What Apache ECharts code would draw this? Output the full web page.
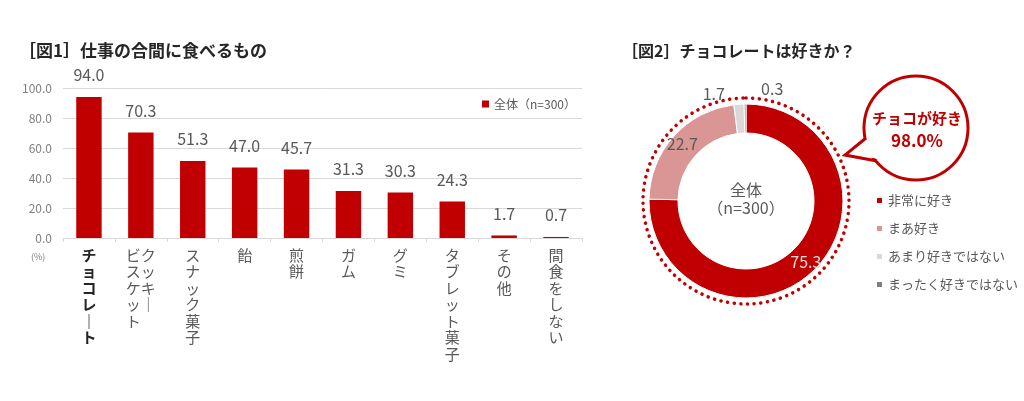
<!DOCTYPE html>
<html>
<head>
<meta charset="utf-8">
<script src="https://cdn.jsdelivr.net/npm/echarts@6/dist/echarts.min.js"></script>
<style>
html, body { margin: 0; padding: 0; background: #fff; }
#main { width: 1024px; height: 401px; }
</style>
</head>
<body>
<div id="main"></div>
<script>
// 図1 data
var foodNames = ['チョコレート', 'クッキー\nビスケット', 'スナック菓子', '飴', '煎餅', 'ガム', 'グミ', 'タブレット菓子', 'その他', '間食をしない'];
var foodValues = [94.0, 70.3, 51.3, 47.0, 45.7, 31.3, 30.3, 24.3, 1.7, 0.7];
var barSeriesName = '全体（n=300）';
var yTicks = [0, 20, 40, 60, 80, 100];

// 図2 data
var likeNames = ['非常に好き', 'まあ好き', 'あまり好きではない', 'まったく好きではない'];
var likeValues = [75.3, 22.7, 1.7, 0.3];
var likeColors = ['#C00000', '#D99694', '#D9D9D9', '#7F7F7F'];

var FONT = '"Noto Sans CJK JP", "Noto Sans", sans-serif';
var RED = '#C00000';
var GRAY = '#595959';

// vertical (tategaki) label: columns separated by \n, read right to left
function verticalText(name) {
    var cols = name.split('\n').map(function (c) {
        return c.replace(/ー/g, '｜').split('');
    });
    cols.reverse();
    var maxLen = 0;
    cols.forEach(function (c) { if (c.length > maxLen) maxLen = c.length; });
    var lines = [];
    for (var i = 0; i < maxLen; i++) {
        lines.push(cols.map(function (c) { return c[i] || '　'; }).join(''));
    }
    return lines.join('\n');
}

var xData = foodNames.map(function (n, i) {
    var item = { value: n };
    if (i === 0) {
        item.textStyle = { fontWeight: 'bold', color: '#262626' };
    }
    return item;
});

var pieData = likeNames.map(function (n, i) {
    return { name: n, value: likeValues[i], itemStyle: { color: likeColors[i] } };
});

var chart = echarts.init(document.getElementById('main'));

var option = {
    animation: false,
    textStyle: { fontFamily: FONT },
    title: [
        {
            text: '［図1］仕事の合間に食べるもの',
            left: 14, top: 37,
            textStyle: { fontSize: 17, fontWeight: 'bold', color: '#262626', fontFamily: FONT }
        },
        {
            text: '［図2］チョコレートは好きか？',
            left: 617, top: 38,
            textStyle: { fontSize: 16, fontWeight: 'bold', color: '#262626', fontFamily: FONT }
        }
    ],
    legend: [
        {
            data: [barSeriesName],
            left: 477, top: 93,
            icon: 'rect',
            itemWidth: 7, itemHeight: 7, itemGap: 4,
            textStyle: { fontSize: 12, color: GRAY, fontFamily: FONT }
        },
        {
            data: likeNames,
            orient: 'vertical',
            left: 870, top: 189,
            icon: 'rect',
            itemWidth: 7, itemHeight: 7, itemGap: 15,
            textStyle: { fontSize: 13, color: GRAY, fontFamily: FONT }
        }
    ],
    grid: { left: 63, right: 442, top: 88, bottom: 163 },
    xAxis: {
        type: 'category',
        data: xData,
        axisLine: { lineStyle: { color: '#D9D9D9' } },
        axisTick: { show: true, length: 4, lineStyle: { color: '#D9D9D9' } },
        axisLabel: {
            interval: 0,
            margin: 9,
            fontSize: 15,
            lineHeight: 16.5,
            color: GRAY,
            fontFamily: FONT,
            formatter: verticalText
        }
    },
    yAxis: {
        type: 'value',
        min: yTicks[0],
        max: yTicks[yTicks.length - 1],
        interval: 20,
        axisLine: { show: false },
        axisTick: { show: false },
        splitLine: { lineStyle: { color: '#D9D9D9' } },
        axisLabel: {
            fontSize: 12,
            color: '#7F7F7F',
            margin: 11,
            formatter: function (v) { return v.toFixed(1); }
        }
    },
    graphic: [
        {
            type: 'text', left: 31, top: 252,
            style: { text: '(%)', fontSize: 9, fill: '#7F7F7F', fontFamily: FONT }
        },
        {
            type: 'text', x: 746, y: 199,
            style: {
                text: '全体\n（n=300）', fontSize: 16, lineHeight: 18,
                fill: GRAY, align: 'center', verticalAlign: 'middle', fontFamily: FONT
            }
        },
        // speech bubble
        {
            type: 'circle',
            shape: { cx: 916, cy: 128, r: 52 },
            style: { fill: '#fff', stroke: RED, lineWidth: 3 },
            z: 10
        },
        {
            type: 'polygon',
            shape: { points: [[869, 137], [848, 154], [879, 159], [890, 148]] },
            style: { fill: '#fff', stroke: null },
            z: 11
        },
        {
            type: 'polyline',
            shape: { points: [[866, 138], [845, 155], [877, 161]] },
            style: { stroke: RED, lineWidth: 3, fill: null, lineJoin: 'miter' },
            z: 12
        },
        {
            type: 'text', x: 917, y: 118,
            style: {
                text: 'チョコが好き', fontSize: 15, fontWeight: 'bold',
                fill: RED, align: 'center', verticalAlign: 'middle', fontFamily: FONT
            },
            z: 13
        },
        {
            type: 'text', x: 917, y: 141,
            style: {
                text: '98.0%', fontSize: 17, fontWeight: 'bold',
                fill: RED, align: 'center', verticalAlign: 'middle', fontFamily: FONT
            },
            z: 13
        }
    ],
    series: [
        {
            name: barSeriesName,
            type: 'bar',
            data: foodValues,
            barWidth: '49%',
            itemStyle: { color: RED },
            label: {
                show: true,
                position: 'top',
                distance: 14,
                fontSize: 16,
                color: GRAY,
                fontFamily: FONT,
                formatter: function (p) { return p.value.toFixed(1); }
            }
        },
        {
            // dotted ring around the donut
            type: 'pie',
            silent: true,
            center: [746, 201],
            radius: [0, 103],
            startAngle: 90,
            label: { show: false },
            labelLine: { show: false },
            legendHoverLink: false,
            data: [{
                name: '_ring', value: 1,
                itemStyle: {
                    color: 'rgba(0,0,0,0)',
                    borderColor: RED,
                    borderWidth: 3.5,
                    borderType: [0.1, 6.6],
                    borderCap: 'round'
                }
            }],
            z: 1
        },
        {
            name: '図2',
            type: 'pie',
            center: [746, 201],
            radius: [68, 97],
            startAngle: 90,
            clockwise: true,
            avoidLabelOverlap: false,
            itemStyle: { borderColor: '#fff', borderWidth: 1 },
            label: {
                show: true,
                position: 'inside',
                fontSize: 16,
                fontFamily: FONT,
                color: GRAY,
                formatter: function (p) { return p.value.toFixed(1); }
            },
            labelLine: { show: false },
            labelLayout: function (p) {
                if (p.dataIndex === 2) return { dx: -26, dy: -22 };
                if (p.dataIndex === 3) return { dx: 27, dy: -27 };
                return {};
            },
            data: pieData.map(function (d, i) {
                if (i === 0) d.label = { color: '#F2DCDB' };
                return d;
            }),
            z: 2
        }
    ]
};

chart.setOption(option);
window.onresize = function () {
    chart.resize();
};
</script>
</body>
</html>
